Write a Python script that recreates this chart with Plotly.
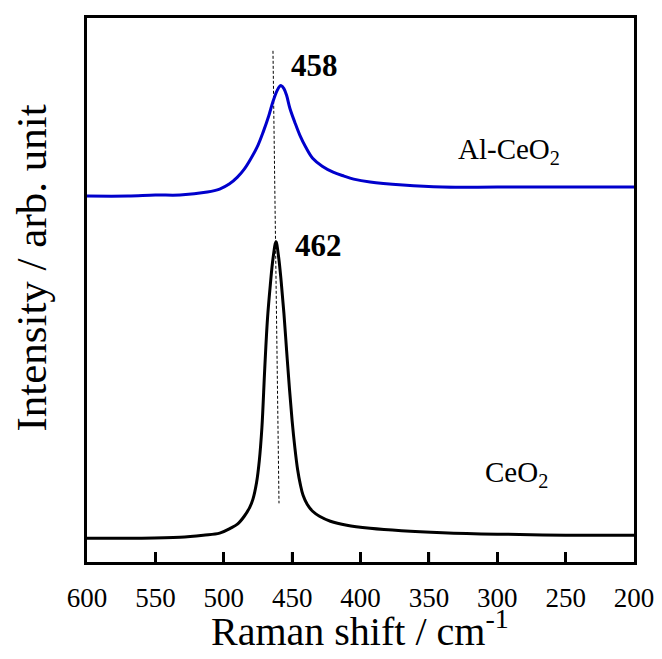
import plotly.graph_objects as go

# Raman spectra (x: Raman shift / cm-1, y: intensity in arbitrary units)
shift_al = [600, 570, 550, 532, 512, 503, 496, 490, 485, 480, 475, 471, 467, 464, 461, 459, 458,
            456, 454, 451.6, 448, 444.3, 440, 435, 428, 420, 412, 405, 393, 369, 340,
            300, 250, 200]
int_al = [368, 368, 369, 369, 372, 375, 380, 387, 395, 406, 419, 433, 449, 463, 474, 478.5, 479,
          476, 469, 456, 442, 429, 417, 406, 398, 392, 388, 385, 382, 379, 377,
          377, 377, 377]

shift_ce = [600, 560, 532, 515, 503, 495, 490, 485, 481, 478.7, 476, 474, 472.1, 470, 468, 466,
            464, 461.8, 460, 458, 456, 454, 452, 450, 448, 446, 444, 442, 439, 435, 430,
            422, 410, 393, 370, 340, 300, 250, 200]
int_ce = [24, 24, 25, 27, 29, 34, 38, 46, 55, 63, 80, 102, 135, 195, 245, 278,
          305, 322, 308, 282, 250, 212, 175, 142, 115, 93, 78, 67, 58, 51, 46,
          41, 37, 34, 31.5, 29.5, 28, 27, 27]

# guide line between the two peak maxima
guide_x = [464.0, 459.6]
guide_y = [514, 59]

peak_labels = ["458", "462"]
sample_labels = ["Al-CeO<sub>2</sub>", "CeO<sub>2</sub>"]
x_ticks = [600, 550, 500, 450, 400, 350, 300, 250, 200]

FONT = "Liberation Serif, Times New Roman, serif"

fig = go.Figure()
fig.add_trace(go.Scatter(x=guide_x, y=guide_y, mode="lines",
                         line=dict(color="black", width=1, dash="3px,2px"),
                         showlegend=False, hoverinfo="skip"))
fig.add_trace(go.Scatter(x=shift_al, y=int_al, mode="lines",
                         line=dict(color="#0000cc", width=3, shape="spline", smoothing=1.0),
                         showlegend=False))
fig.add_trace(go.Scatter(x=shift_ce, y=int_ce, mode="lines",
                         line=dict(color="black", width=3, shape="spline", smoothing=1.0),
                         showlegend=False))

OFF = 8  # page body margin
W, H = 662 - OFF, 659 - OFF
L, R, T, B = 87 - OFF, 28, 15 - OFF, 97
pw, ph = W - L - R, H - T - B

def px(x):
    return (x - OFF - L) / pw

def py(y):
    return (H - B - (y - OFF)) / ph

def label(text, x, y, size, anchor="center", angle=0):
    return dict(text=text, x=px(x), y=py(y), textangle=angle,
                font=dict(size=size, family=FONT, color="black"),
                showarrow=False, xref="paper", yref="paper",
                xanchor=anchor, yanchor="middle")

ann = [
    label("<b>" + peak_labels[0] + "</b>", 314, 63, 31),
    label("<b>" + peak_labels[1] + "</b>", 318, 244, 31),
    label(sample_labels[0], 456, 149, 29, anchor="left"),
    label(sample_labels[1], 483, 474, 29, anchor="left"),
    label("Raman shift / cm<sup>-1</sup>", 360, 629, 40),
    label("Intensity / arb. unit", 32, 267, 43, angle=-90),
]

# inward tick marks on the bottom axis, placed at the tick values
tick_shapes = [dict(type="line", xref="x", yref="paper", x0=v, x1=v, y0=0, y1=10 / ph,
                    line=dict(color="black", width=2.5), layer="above")
               for v in x_ticks[1:-1]]

fig.update_layout(
    width=W, height=H,
    margin=dict(l=L, r=R, t=T, b=B, pad=0),
    paper_bgcolor="white", plot_bgcolor="white",
    font=dict(family=FONT, color="black"),
    annotations=ann,
    shapes=tick_shapes,
    xaxis=dict(range=[600, 200], tickmode="array", tickvals=x_ticks,
               ticktext=[str(v) for v in x_ticks],
               ticks="inside", ticklen=10, tickwidth=2.5, tickcolor="black",
               showline=True, linewidth=3, linecolor="black", mirror=True,
               showgrid=False, zeroline=False,
               tickfont=dict(size=27, family=FONT, color="black"),
               ticklabelstandoff=10),
    yaxis=dict(range=[0, 547], showticklabels=False, ticks="",
               showline=True, linewidth=3, linecolor="black", mirror=True,
               showgrid=False, zeroline=False),
)

fig.write_html("out.html")
